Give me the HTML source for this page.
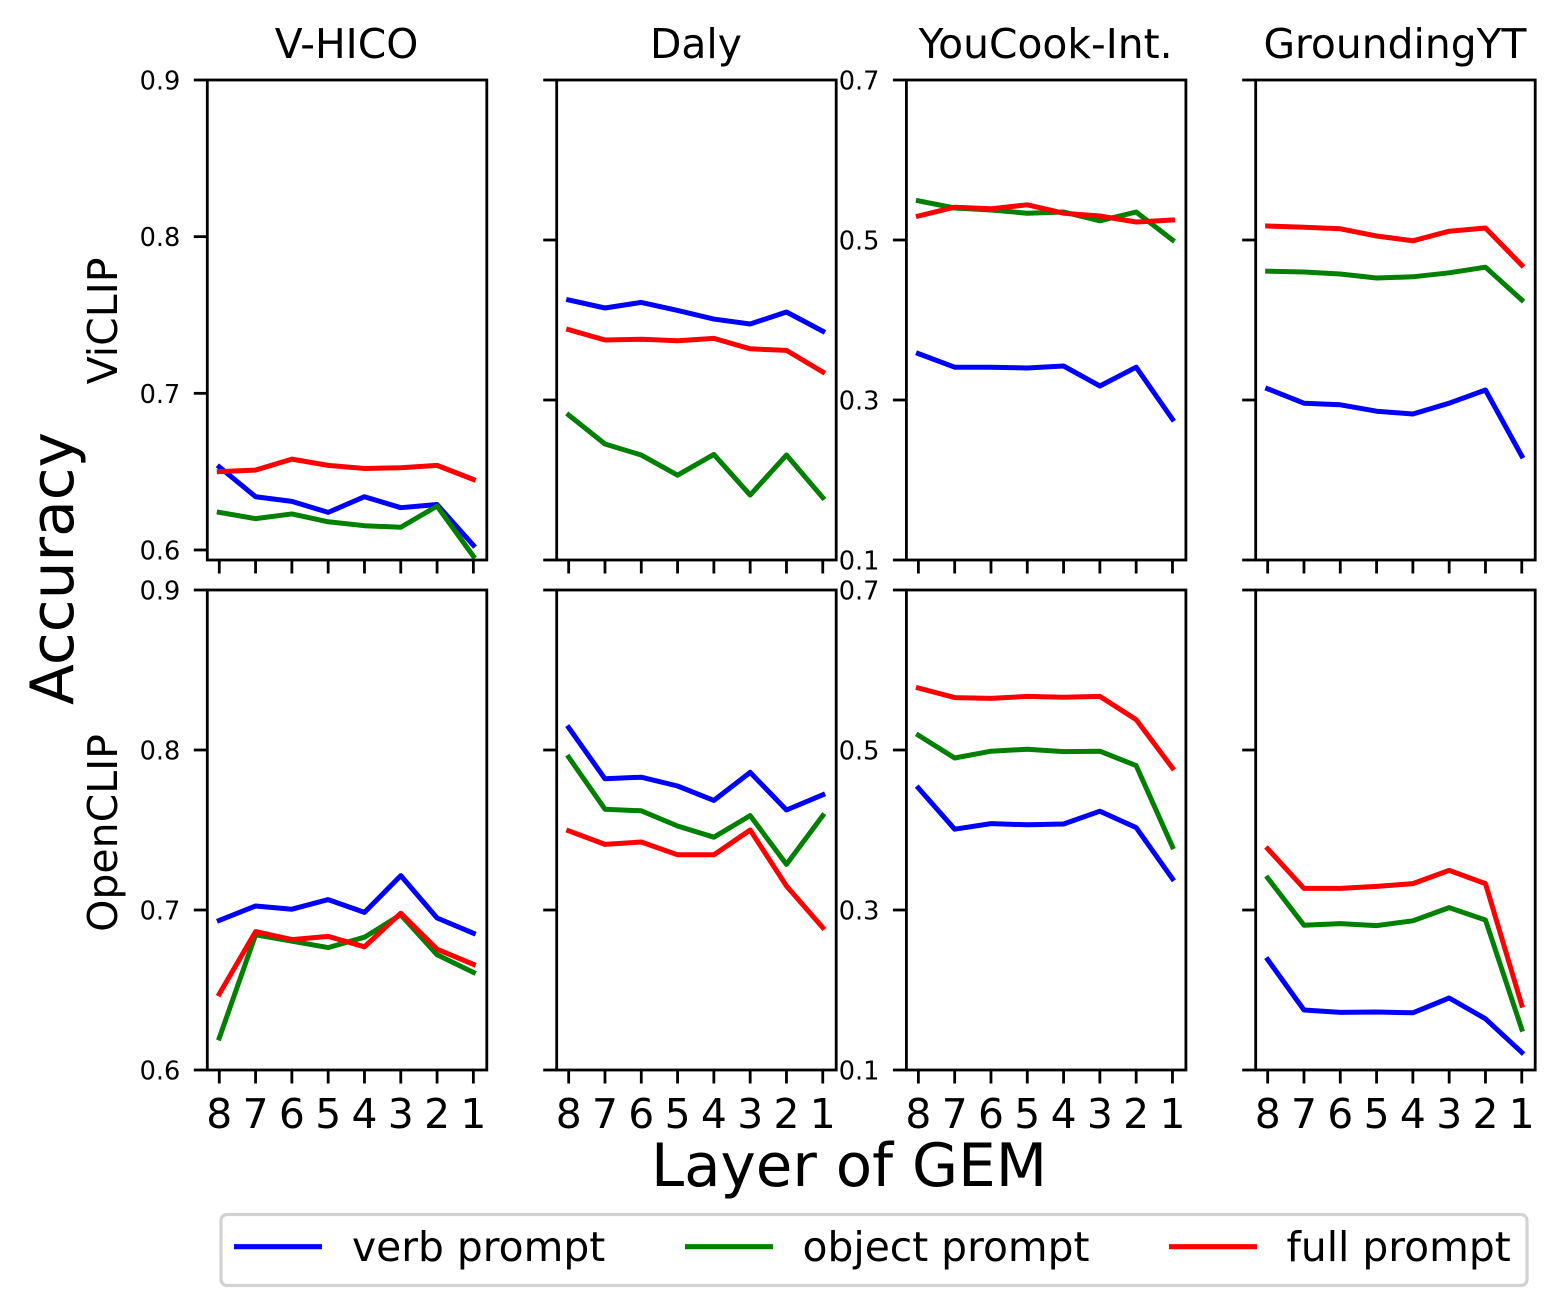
<!DOCTYPE html>
<html lang="en">
<head>
<meta charset="utf-8">
<title>Accuracy by Layer of GEM</title>
<style>
html,body{margin:0;padding:0;background:#fff;}
svg{display:block;font-family:"DejaVu Sans",sans-serif;}
</style>
</head>
<body>
<svg id="chart" xmlns="http://www.w3.org/2000/svg" width="1562" height="1313" viewBox="0 0 1562 1313">
<rect x="0" y="0" width="1562" height="1313" fill="#fff"/>
<text transform="translate(73,568.5) rotate(-90)" text-anchor="middle" font-size="59.8" fill="#000">Accuracy</text>
<text x="849" y="1186" text-anchor="middle" font-size="59.5" fill="#000">Layer of GEM</text>
<text transform="translate(117,321) rotate(-90)" text-anchor="middle" font-size="41" fill="#000">ViCLIP</text>
<text transform="translate(117,833) rotate(-90)" text-anchor="middle" font-size="41" fill="#000">OpenCLIP</text>
<g>
<rect x="221" y="1214.5" width="1306" height="71" rx="6" ry="6" fill="#fff" stroke="#d2d2d2" stroke-width="3.2"/>
<line x1="234" x2="322" y1="1246.7" y2="1246.7" stroke="#0000ff" stroke-width="5.2"/>
<text x="352" y="1261" font-size="40.8" fill="#000">verb prompt</text>
<line x1="685" x2="773" y1="1246.7" y2="1246.7" stroke="#008000" stroke-width="5.2"/>
<text x="802.5" y="1261" font-size="40.8" fill="#000">object prompt</text>
<line x1="1169" x2="1257" y1="1246.7" y2="1246.7" stroke="#ff0000" stroke-width="5.2"/>
<text x="1286.5" y="1261" font-size="40.8" fill="#000">full prompt</text>
</g>
</svg>
<script>
// Categories and tick labels
const layers = [8, 7, 6, 5, 4, 3, 2, 1];
const datasets = ["V-HICO", "Daly", "YouCook-Int.", "GroundingYT"];
const models = ["ViCLIP", "OpenCLIP"];
const seriesNames = ["verb", "object", "full"];
const ticksHigh = [0.6, 0.7, 0.8, 0.9];
const ticksLow = [0.1, 0.3, 0.5, 0.7];

// ViCLIP row
const viclipVhicoVerb = [0.653, 0.634, 0.631, 0.624, 0.634, 0.627, 0.629, 0.603];
const viclipVhicoObject = [0.624, 0.620, 0.623, 0.618, 0.6155, 0.6145, 0.628, 0.596];
const viclipVhicoFull = [0.650, 0.651, 0.658, 0.654, 0.652, 0.6525, 0.654, 0.645];
const viclipDalyVerb = [0.7625, 0.7575, 0.761, 0.756, 0.7506, 0.7475, 0.755, 0.743];
const viclipDalyObject = [0.6906, 0.6725, 0.6656, 0.653, 0.666, 0.6406, 0.6656, 0.639];
const viclipDalyFull = [0.744, 0.7375, 0.738, 0.737, 0.7385, 0.732, 0.731, 0.7175];
const viclipYoucookVerb = [0.358, 0.341, 0.341, 0.340, 0.3425, 0.3175, 0.341, 0.276];
const viclipYoucookObject = [0.549, 0.540, 0.5375, 0.5335, 0.535, 0.524, 0.535, 0.500];
const viclipYoucookFull = [0.530, 0.541, 0.539, 0.544, 0.5335, 0.530, 0.5225, 0.525];
const viclipGroundingVerb = [0.314, 0.296, 0.294, 0.286, 0.2825, 0.296, 0.3125, 0.230];
const viclipGroundingObject = [0.461, 0.460, 0.4575, 0.4525, 0.454, 0.459, 0.466, 0.425];
const viclipGroundingFull = [0.5175, 0.516, 0.514, 0.505, 0.499, 0.511, 0.515, 0.4685];

// OpenCLIP row
const openclipVhicoVerb = [0.6935, 0.7025, 0.7005, 0.7065, 0.6985, 0.7215, 0.695, 0.6855];
const openclipVhicoObject = [0.620, 0.6845, 0.6805, 0.6765, 0.683, 0.697, 0.672, 0.661];
const openclipVhicoFull = [0.6475, 0.6865, 0.6815, 0.6835, 0.677, 0.698, 0.6755, 0.666];
const openclipDalyVerb = [0.814, 0.782, 0.783, 0.7775, 0.7685, 0.786, 0.7625, 0.772];
const openclipDalyObject = [0.7955, 0.763, 0.762, 0.7525, 0.7455, 0.759, 0.7285, 0.759];
const openclipDalyFull = [0.7495, 0.741, 0.7425, 0.7345, 0.7345, 0.75, 0.715, 0.689];
const openclipYoucookVerb = [0.4525, 0.401, 0.408, 0.4065, 0.4075, 0.4235, 0.403, 0.339];
const openclipYoucookObject = [0.5185, 0.49, 0.4985, 0.501, 0.498, 0.4985, 0.4805, 0.379];
const openclipYoucookFull = [0.5775, 0.5655, 0.5645, 0.567, 0.566, 0.567, 0.538, 0.4775];
const openclipGroundingVerb = [0.238, 0.175, 0.172, 0.1725, 0.1715, 0.19, 0.164, 0.122];
const openclipGroundingObject = [0.34, 0.281, 0.283, 0.2805, 0.2865, 0.303, 0.2875, 0.151];
const openclipGroundingFull = [0.3765, 0.327, 0.327, 0.3295, 0.333, 0.3495, 0.333, 0.181];

const panelSeries = [
  [
    [viclipVhicoVerb, viclipVhicoObject, viclipVhicoFull],
    [viclipDalyVerb, viclipDalyObject, viclipDalyFull],
    [viclipYoucookVerb, viclipYoucookObject, viclipYoucookFull],
    [viclipGroundingVerb, viclipGroundingObject, viclipGroundingFull]
  ],
  [
    [openclipVhicoVerb, openclipVhicoObject, openclipVhicoFull],
    [openclipDalyVerb, openclipDalyObject, openclipDalyFull],
    [openclipYoucookVerb, openclipYoucookObject, openclipYoucookFull],
    [openclipGroundingVerb, openclipGroundingObject, openclipGroundingFull]
  ]
];

const NS = "http://www.w3.org/2000/svg";
const svg = document.getElementById("chart");
const colLefts = [207.3, 556.7, 906.4, 1255.7];
const rowTops = [80, 590];
const panelW = 279.5;
const panelH = 480;
const colors = ["#0000ff", "#008000", "#ff0000"];
const xMin = 8.33;
const xMax = 0.63;

function slug(s) {
  return s.toLowerCase().replace(/[^a-z0-9]+/g, "-").replace(/-$/, "");
}
function xScale(layer, left) {
  return left + (xMin - layer) / (xMin - xMax) * panelW;
}
function yScale(v, top, dom) {
  return top + (dom[1] - v) / (dom[1] - dom[0]) * panelH;
}
function yDomain(r, c) {
  if (c >= 2) return [0.1, 0.7];
  if (r === 0 && c === 0) return [0.5936, 0.9];
  return [0.6, 0.9];
}
function make(tag, attrs, parent) {
  const el = document.createElementNS(NS, tag);
  for (const k in attrs) el.setAttribute(k, attrs[k]);
  parent.appendChild(el);
  return el;
}

models.forEach(function (model, r) {
  datasets.forEach(function (ds, c) {
    const left = colLefts[c];
    const top = rowTops[r];
    const bottom = top + panelH;
    const dom = yDomain(r, c);
    const panelId = slug(model) + "-" + slug(ds);

    const g = make("g", {}, svg);
    
    

    if (r === 0) {
      const title = make("text", {
        x: left + panelW / 2 - 0.5, y: 58, "text-anchor": "middle", "font-size": 40.8, fill: "#000"
      }, g);
      
      
      title.textContent = ds;
    }

    panelSeries[r][c].forEach(function (vals, s) {
      const pts = vals.map(function (v, i) {
        return xScale(layers[i], left).toFixed(2) + "," + yScale(v, top, dom).toFixed(2);
      }).join(" ");
      const line = make("polyline", {
        points: pts, fill: "none", stroke: colors[s], "stroke-width": 5,
        "stroke-linejoin": "round", "stroke-linecap": "square"
      }, g);
      
      
    });

    const frame = make("rect", {
      x: left, y: top, width: panelW, height: panelH, fill: "none",
      stroke: "#000", "stroke-width": 2.8
    }, g);
    
    

    layers.forEach(function (layer) {
      const x = xScale(layer, left);
      const tick = make("line", {
        x1: x, x2: x, y1: bottom, y2: bottom + 13.5, stroke: "#000", "stroke-width": 2.8
      }, g);
      
      
      if (r === 1) {
        const label = make("text", {
          x: x, y: 1128, "text-anchor": "middle", "font-size": 40.8, fill: "#000"
        }, g);
        
        
        label.textContent = layer;
      }
    });

    const yTicks = c >= 2 ? ticksLow : ticksHigh;
    yTicks.forEach(function (v) {
      const y = yScale(v, top, dom);
      const tick = make("line", {
        x1: left - 13.5, x2: left, y1: y, y2: y, stroke: "#000", "stroke-width": 2.8
      }, g);
      
      
      if (c === 0 || c === 2) {
        const label = make("text", {
          x: left - 27, y: y + 9.5, "text-anchor": "end", "font-size": 25.6, fill: "#000"
        }, g);
        
        
        label.textContent = v.toFixed(1);
      }
    });
  });
});
</script>
</body>
</html>
